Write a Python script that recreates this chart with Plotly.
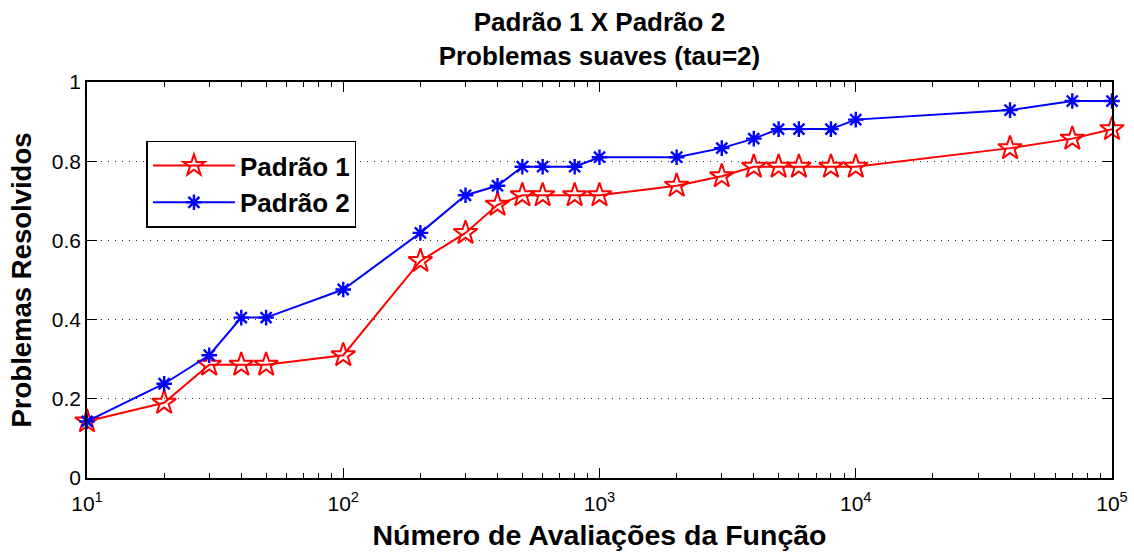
import plotly.graph_objects as go

# Function-evaluation budgets (log scale) and fraction of problems solved
avaliacoes = [10, 20, 30, 40, 50, 100, 200, 300, 400, 500, 600, 800, 1000,
              2000, 3000, 4000, 5000, 6000, 8000, 10000, 40000, 70000, 100000]

padrao1 = [0.143, 0.190, 0.286, 0.286, 0.286, 0.310, 0.548, 0.619, 0.690,
           0.714, 0.714, 0.714, 0.714, 0.738, 0.762, 0.786, 0.786, 0.786,
           0.786, 0.786, 0.833, 0.857, 0.881]

padrao2 = [0.143, 0.238, 0.310, 0.405, 0.405, 0.476, 0.619, 0.714, 0.738,
           0.786, 0.786, 0.786, 0.810, 0.810, 0.833, 0.857, 0.881, 0.881,
           0.881, 0.905, 0.929, 0.952, 0.952]

x_tickvals = [10, 100, 1000, 10000, 100000]
x_ticktext = ["10<sup>1</sup>", "10<sup>2</sup>", "10<sup>3</sup>",
              "10<sup>4</sup>", "10<sup>5</sup>"]
y_tickvals = [0, 0.2, 0.4, 0.6, 0.8, 1]
y_ticktext = ["0", "0.2", "0.4", "0.6", "0.8", "1"]

# minor log ticks at 2..9 of each decade
minor_vals = [m * 10 ** d for d in range(1, 5) for m in range(2, 10)]

FONT = "Liberation Sans, Arial, sans-serif"

fig = go.Figure()
fig.add_trace(go.Scatter(
    x=avaliacoes, y=padrao1, mode="lines+markers", name="<b>Padrão 1</b>",
    line=dict(color="#ff0000", width=2),
    marker=dict(symbol="star-open", size=18, color="#ff0000",
                line=dict(width=2, color="#ff0000")),
    cliponaxis=False,
))
fig.add_trace(go.Scatter(
    x=avaliacoes, y=padrao2, mode="lines+markers", name="<b>Padrão 2</b>",
    line=dict(color="#0000ff", width=2),
    marker=dict(symbol="asterisk-open", size=13, color="#0000ff",
                line=dict(width=2.4, color="#0000ff")),
    cliponaxis=False,
))

fig.update_layout(
    width=1134, height=555,
    margin=dict(l=87, r=22, t=82, b=77, autoexpand=False),
    paper_bgcolor="white", plot_bgcolor="white",
    font=dict(family=FONT, color="black"),
    title=dict(
        text="<b>Padrão 1 X Padrão 2</b><br><b>Problemas suaves (tau=2)</b>",
        x=0.5286, xanchor="center", y=0.944, yanchor="top",
        font=dict(size=26, family=FONT, color="black"),
    ),
    showlegend=True,
    legend=dict(
        x=0.058, y=0.852, xanchor="left", yanchor="top",
        bgcolor="white", bordercolor="black", borderwidth=1.5,
        font=dict(size=26, family=FONT, color="black"),
        itemwidth=82, tracegroupgap=0,
    ),
)

fig.update_xaxes(
    type="log", range=[1, 5], automargin=False,
    tickmode="array", tickvals=x_tickvals, ticktext=x_ticktext,
    tickfont=dict(size=21, family=FONT),
    ticks="inside", ticklen=10, tickwidth=1, tickcolor="black",
    ticklabelstandoff=6,
    minor=dict(ticks="inside", ticklen=5, tickwidth=1, tickcolor="black",
               tickmode="array", tickvals=minor_vals, showgrid=False),
    showline=True, linecolor="black", linewidth=1.5, mirror="ticks",
    showgrid=False, zeroline=False,
    title=dict(text="<b>Número de Avaliações da Função</b>",
               font=dict(size=28.5, family=FONT), standoff=11),
)
fig.update_yaxes(
    range=[0, 1], automargin=False,
    tickmode="array", tickvals=y_tickvals, ticktext=y_ticktext,
    tickfont=dict(size=21, family=FONT),
    ticks="inside", ticklen=10, tickwidth=1, tickcolor="black",
    showline=True, linecolor="black", linewidth=1.5, mirror="ticks",
    showgrid=True, gridcolor="#333333", gridwidth=1, griddash="1px,6px",
    zeroline=False,
    title=dict(text="<b>Problemas Resolvidos</b>",
               font=dict(size=27.5, family=FONT), standoff=12),
)

fig.write_html("out.html")
